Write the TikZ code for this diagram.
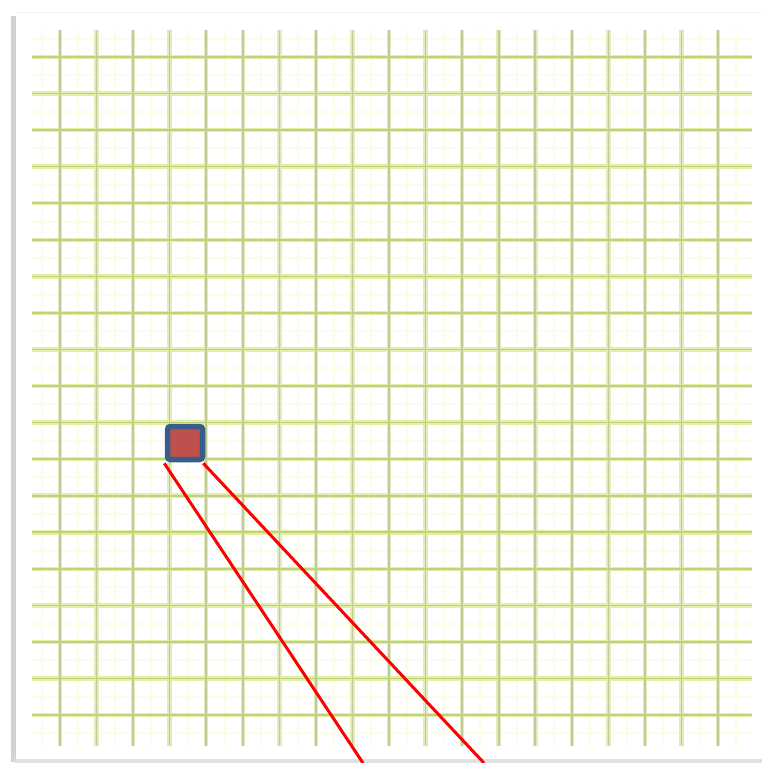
\documentclass[tikz,border=0pt]{standalone}
\definecolor{gridvsoft}{RGB}{226,234,190}
\definecolor{gridv}{RGB}{190,204,150}
\definecolor{gridhsoft}{RGB}{226,238,170}
\definecolor{gridh}{RGB}{190,212,120}
\definecolor{gridminor}{RGB}{252,253,230}
\definecolor{markerblue}{RGB}{56,93,138}
\definecolor{markerred}{RGB}{192,80,77}
\definecolor{rayred}{RGB}{255,0,0}
\definecolor{shadowa}{RGB}{210,210,210}
\definecolor{shadowb}{RGB}{225,225,225}
\definecolor{shadowc}{RGB}{242,242,242}
\begin{document}
\begin{tikzpicture}[x=1pt,y=-1pt,
  majorvsoft/.style={line width=4.5pt, draw=gridvsoft},
  majorv/.style={line width=1.6pt, draw=gridv},
  majorhsoft/.style={line width=4.5pt, draw=gridhsoft},
  majorh/.style={line width=1.6pt, draw=gridh},
  minor/.style={line width=2pt, draw=gridminor},
  marker/.style={draw=markerblue, fill=markerred, line width=5.5pt, rounded corners=3pt, minimum width=35pt, minimum height=33pt, inner sep=0pt},
  ray/.style={draw=rayred, line width=3pt}]
\useasboundingbox (0,0) rectangle (762,763);
\fill[white] (0,0) rectangle (762,763);
% panel shadow
\fill[shadowa] (11,16) rectangle (16,762);
\fill[shadowb] (14,759) rectangle (762,763);
\draw[shadowc, line width=1pt] (16,12) -- (762,12);
% minor grid
\foreach \i in {0,...,19} {
  \draw[minor] ({60+36.56*\i-18.28},30) -- ({60+36.56*\i-18.28},746);
  \draw[minor] (32,{57+36.56*\i-18.28}) -- (752,{57+36.56*\i-18.28});
}
% major grid
\foreach \i in {0,...,18} {
  \draw[majorvsoft] ({60+36.56*\i},30) -- ({60+36.56*\i},746);
  \draw[majorhsoft] (32,{57+36.56*\i}) -- (752,{57+36.56*\i});
}
\foreach \i in {0,...,18} {
  \draw[majorv] ({60+36.56*\i},30) -- ({60+36.56*\i},746);
  \draw[majorh] (32,{57+36.56*\i}) -- (752,{57+36.56*\i});
}
\node[marker] (sq) at (185,443) {};
\coordinate (e1) at (363,763);
\coordinate (e2) at (484,763);
\draw[ray] ([xshift=-0.5pt,yshift=-1pt]sq.south west) -- (e1);
\draw[ray] ([xshift=-2pt,yshift=-1pt]sq.south east) -- (e2);
\end{tikzpicture}
\end{document}
